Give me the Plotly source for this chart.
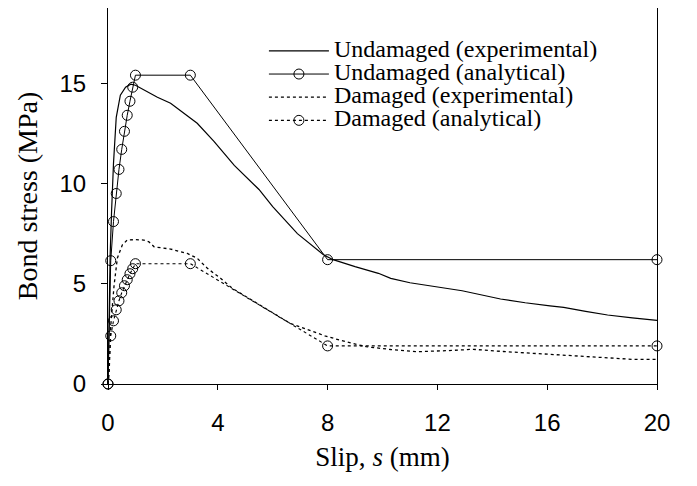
import plotly.graph_objects as go

# ---- data ----
slip_analytical = [0, 0.1, 0.2, 0.3, 0.4, 0.5, 0.6, 0.7, 0.8, 0.9, 1.0, 3.0, 8.0, 20.0]
undamaged_analytical = [0, 6.15, 8.1, 9.5, 10.7, 11.7, 12.6, 13.4, 14.1, 14.8, 15.4, 15.4, 6.2, 6.2]
damaged_analytical = [0, 2.4, 3.15, 3.7, 4.15, 4.55, 4.9, 5.2, 5.5, 5.75, 6.0, 6.0, 1.9, 1.9]

slip_undamaged_exp = [0, 0.03, 0.08, 0.13, 0.2, 0.3, 0.45, 0.64, 0.83, 1.0, 1.2, 1.43, 1.8,
                      2.28, 2.77, 3.25, 3.86, 4.6, 5.5, 6.0, 6.9, 7.85, 8.2, 9.0, 9.85, 10.3,
                      11.0, 12.0, 12.9, 14.3, 15.2, 16.1, 16.6, 17.4, 18.2, 19.1, 20.0]
undamaged_exp = [0, 3.5, 6.5, 8.6, 11.0, 13.3, 14.4, 14.8, 14.95, 14.9, 14.75, 14.57, 14.3,
                 14.0, 13.5, 13.0, 12.1, 10.9, 9.7, 8.85, 7.5, 6.45, 6.2, 5.85, 5.52, 5.27,
                 5.05, 4.85, 4.65, 4.24, 4.05, 3.9, 3.82, 3.62, 3.44, 3.3, 3.17]

slip_damaged_exp = [0, 0.04, 0.1, 0.22, 0.34, 0.52, 0.7, 1.0, 1.3, 1.49, 1.68, 2.28, 2.89,
                    3.25, 3.62, 4.1, 4.53, 5.42, 6.0, 6.63, 7.0, 7.9, 8.45, 9.4, 10.3, 11.25,
                    12.3, 13.3, 14.4, 15.5, 16.6, 17.7, 19.1, 20.0]
damaged_exp = [0, 0.5, 2.9, 4.9, 6.27, 6.93, 7.18, 7.2, 7.18, 7.09, 6.84, 6.73, 6.51,
               6.27, 5.77, 5.27, 4.77, 4.02, 3.55, 3.03, 2.85, 2.4, 2.19, 1.86, 1.72, 1.61,
               1.66, 1.73, 1.62, 1.53, 1.43, 1.33, 1.23, 1.23]

x_ticks = [0, 4, 8, 12, 16, 20]
y_ticks = [0, 5, 10, 15]
x_range = [0, 20]
y_range = [0, 18.75]

names = ["Undamaged (experimental)", "Undamaged (analytical)",
         "Damaged (experimental)", "Damaged (analytical)"]

SERIF = "Liberation Serif, Times New Roman, serif"
SANS = "Liberation Sans, Arial, sans-serif"
BIG = '<span style="font-size:24px">{}</span>'

marker_style = dict(symbol="circle-open", size=10, color="black", line=dict(width=1, color="black"))

fig = go.Figure()
fig.add_trace(go.Scatter(x=slip_undamaged_exp, y=undamaged_exp, mode="lines",
                         line=dict(color="black", width=1.2), name=BIG.format(names[0]),
                         cliponaxis=False))
fig.add_trace(go.Scatter(x=slip_analytical, y=undamaged_analytical, mode="lines+markers",
                         line=dict(color="black", width=1), marker=marker_style,
                         name=BIG.format(names[1]), cliponaxis=False))
fig.add_trace(go.Scatter(x=slip_damaged_exp, y=damaged_exp, mode="lines",
                         line=dict(color="black", width=1.3, dash="dot"),
                         name=BIG.format(names[2]), cliponaxis=False))
fig.add_trace(go.Scatter(x=slip_analytical, y=damaged_analytical, mode="lines+markers",
                         line=dict(color="black", width=1.1, dash="dot"), marker=marker_style,
                         name=BIG.format(names[3]), cliponaxis=False))

fig.update_layout(
    width=697, height=486,
    margin=dict(l=100, r=48, t=0, b=110),
    paper_bgcolor="white", plot_bgcolor="white",
    showlegend=True,
    legend=dict(x=0.284, y=0.93, xanchor="left", yanchor="top",
                font=dict(family=SERIF, size=15.5, color="black"),
                bgcolor="rgba(0,0,0,0)", itemwidth=60, tracegroupgap=0),
    xaxis=dict(range=x_range, tickvals=x_ticks, ticks="outside", ticklen=5, tickwidth=1,
               tickcolor="black", showline=True, linecolor="black", linewidth=1, mirror=True,
               showgrid=False, zeroline=False, automargin=False, ticklabelstandoff=12,
               tickfont=dict(family=SANS, size=24, color="black"),
               title=dict(text="Slip, <i>s</i> (mm)", font=dict(family=SERIF, size=27, color="black"),
                          standoff=12)),
    yaxis=dict(range=y_range, tickvals=y_ticks, ticks="outside", ticklen=6, tickwidth=1,
               tickcolor="black", showline=True, linecolor="black", linewidth=1, mirror=True,
               showgrid=False, zeroline=False, automargin=False, ticklabelstandoff=10,
               tickfont=dict(family=SANS, size=24, color="black"),
               title=dict(text="Bond stress (MPa)", font=dict(family=SERIF, size=28, color="black"),
                          standoff=13)),
)

fig.write_html("out.html")
